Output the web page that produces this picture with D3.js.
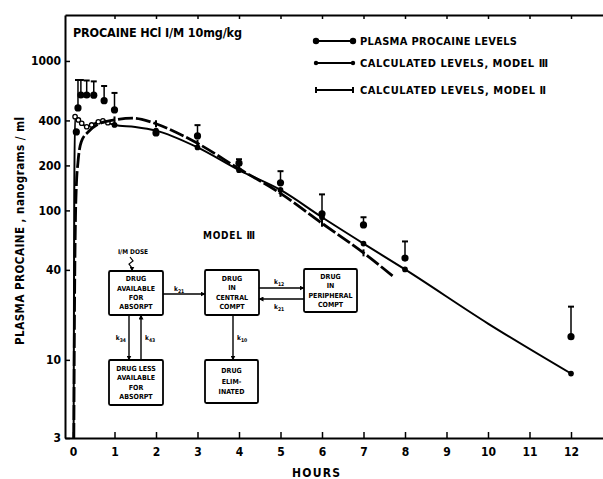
<!DOCTYPE html>
<html>
<head>
<meta charset="utf-8">
<script src="https://cdn.jsdelivr.net/npm/d3@7"></script>
<style>
    body { margin: 0; background: #fff; }
    svg { display: block; }
    text { font-family: "DejaVu Sans Condensed", "DejaVu Sans", sans-serif; font-weight: bold; fill: #000; }
</style>
</head>
<body>
<div id="container"></div>
<script>
// measured plasma levels (ng/ml) with upper error bar
const plasmaHours = [0.08, 0.12, 0.19, 0.33, 0.5, 0.75, 1, 2, 3, 4, 5, 6, 7, 8, 12];
const plasmaLevels = [335, 485, 592, 592, 590, 542, 470, 330, 315, 207, 153, 95, 80, 48, 14.3];
const plasmaUpper = [null, 746, 746, 740, 730, 680, 611, null, 372, 220, 183, 128, 90, 62, 22.7];

// calculated levels, model III (solid)
const model3Hours = [0.015, 0.03, 0.05, 0.13, 0.21, 0.33, 0.45, 0.61, 0.72, 0.84, 1, 1.5, 2, 3, 4, 5, 6, 7, 8, 10, 12];
const model3Levels = [3, 120, 424, 403, 383, 363, 373, 392, 398, 386, 373, 362, 342, 264, 186, 137, 90, 60, 40.3, 17.5, 8.1];

// calculated levels, model II (dashed), stops before 8 h
const model2Hours = [0.02, 0.04, 0.06, 0.08, 0.12, 0.2, 0.37, 0.57, 1, 1.45, 1.85, 2, 3, 4, 5, 6, 7, 7.7];
const model2Levels = [3, 30, 90, 144, 210, 288, 336, 373, 403, 414, 393, 380, 281, 190, 130, 82, 52, 36.5];

const hourTicks = d3.range(0, 13);
const levelTicks = [3, 10, 40, 100, 200, 400, 1000];

const legendLabels = ['PLASMA PROCAINE LEVELS', 'CALCULATED LEVELS, MODEL Ⅲ', 'CALCULATED LEVELS, MODEL Ⅱ'];

const svg = d3.select('#container').append('svg')
    .attr('width', 603)
    .attr('height', 479);

const marginLeft = 65;
const marginTop = 15;
const width = 603 - marginLeft;
const height = 438 - marginTop;

const chart = svg.append('g')
    .attr('transform', `translate(${marginLeft}, ${marginTop})`);

const xScale = d3.scaleLinear()
    .domain([-8 / 41.5, (width - 8) / 41.5])
    .range([0, width]);

const yScale = d3.scaleLog()
    .domain([3, 2030])
    .range([height, 0]);

// axes
const xAxis = chart.append('g')
    .attr('transform', `translate(0, ${height})`)
    .call(d3.axisBottom(xScale)
        .tickValues(hourTicks)
        .tickSizeInner(-6)
        .tickSizeOuter(0)
        .tickPadding(9));

const yAxis = chart.append('g')
    .call(d3.axisLeft(yScale)
        .tickValues(levelTicks)
        .tickFormat(d3.format('d'))
        .tickSizeInner(-5)
        .tickSizeOuter(0)
        .tickPadding(4));

const topAxis = chart.append('g')
    .call(d3.axisTop(xScale)
        .tickValues(hourTicks.slice(1))
        .tickSizeInner(-4)
        .tickSizeOuter(0)
        .tickFormat(''));

[xAxis, yAxis, topAxis].forEach(a => {
    a.attr('font-family', null).attr('font-size', 12);
    a.select('.domain').attr('stroke-width', 2);
    a.selectAll('.tick line').attr('stroke-width', 1.5);
});

// model III line
const line3 = d3.line()
    .x((d, i) => xScale(model3Hours[i]))
    .y(d => yScale(d))
    .curve(d3.curveMonotoneX);

chart.append('path')
    .datum(model3Levels)
    .attr('fill', 'none')
    .attr('stroke', '#000')
    .attr('stroke-width', 2)
    .attr('d', line3);

const marks3 = model3Hours
    .map((h, i) => ({ h: h, v: model3Levels[i] }))
    .filter(d => (d.h >= 0.05 && d.h < 1) || (Number.isInteger(d.h) && d.h !== 10));

chart.selectAll('.m3')
    .data(marks3)
    .enter()
    .append('circle')
    .attr('class', 'm3')
    .attr('cx', d => xScale(d.h))
    .attr('cy', d => yScale(d.v))
    .attr('r', 2.2)
    .attr('fill', d => d.h < 1 ? '#fff' : '#000')
    .attr('stroke', '#000')
    .attr('stroke-width', 1.3);

// model II dashed line
const line2 = d3.line()
    .x((d, i) => xScale(model2Hours[i]))
    .y(d => yScale(d))
    .curve(d3.curveMonotoneX);

chart.append('path')
    .datum(model2Levels)
    .attr('fill', 'none')
    .attr('stroke', '#000')
    .attr('stroke-width', 2.8)
    .attr('stroke-dasharray', '15,3')
    .attr('d', line2);

const marks2 = model2Hours
    .map((h, i) => ({ h: h, v: model2Levels[i] }))
    .filter(d => Number.isInteger(d.h));

chart.selectAll('.m2')
    .data(marks2)
    .enter()
    .append('line')
    .attr('class', 'm2')
    .attr('x1', d => xScale(d.h))
    .attr('x2', d => xScale(d.h))
    .attr('y1', d => yScale(d.v) - 3.5)
    .attr('y2', d => yScale(d.v) + 3.5)
    .attr('stroke', '#000')
    .attr('stroke-width', 2);

// plasma points with error bars
const plasma = plasmaHours.map((h, i) => ({ h: h, v: plasmaLevels[i], up: plasmaUpper[i] }));
const bars = plasma.filter(d => d.up !== null);

chart.selectAll('.err')
    .data(bars)
    .enter()
    .append('line')
    .attr('class', 'err')
    .attr('x1', d => xScale(d.h))
    .attr('x2', d => xScale(d.h))
    .attr('y1', d => yScale(d.v))
    .attr('y2', d => yScale(d.up))
    .attr('stroke', '#000')
    .attr('stroke-width', 1.5);

chart.selectAll('.cap')
    .data(bars)
    .enter()
    .append('line')
    .attr('class', 'cap')
    .attr('x1', d => xScale(d.h) - 3)
    .attr('x2', d => xScale(d.h) + 3)
    .attr('y1', d => yScale(d.up))
    .attr('y2', d => yScale(d.up))
    .attr('stroke', '#000')
    .attr('stroke-width', 2);

chart.selectAll('.pt')
    .data(plasma)
    .enter()
    .append('circle')
    .attr('class', 'pt')
    .attr('cx', d => xScale(d.h))
    .attr('cy', d => yScale(d.v))
    .attr('r', 3.6)
    .attr('fill', '#000');

// titles
svg.append('text')
    .attr('x', 73)
    .attr('y', 37)
    .attr('font-size', 12.5)
    .attr('textLength', 169)
    .text('PROCAINE HCl I/M 10mg/kg');

svg.append('text')
    .attr('transform', 'rotate(-90)')
    .attr('x', -231)
    .attr('y', 24)
    .attr('text-anchor', 'middle')
    .attr('font-size', 11.5)
    .attr('textLength', 228)
    .text('PLASMA PROCAINE , nanograms / ml');

svg.append('text')
    .attr('x', 316)
    .attr('y', 477)
    .attr('text-anchor', 'middle')
    .attr('font-size', 12)
    .attr('textLength', 48)
    .text('HOURS');

// legend
const legendY = [41, 63, 90];
const legendLen = [157, 188, 186];
const legend = svg.append('g');

legendLabels.forEach((label, i) => {
    legend.append('line')
        .attr('x1', 316).attr('x2', 353)
        .attr('y1', legendY[i]).attr('y2', legendY[i])
        .attr('stroke', '#000').attr('stroke-width', 2);
    [316, 353].forEach(px => {
        if (i === 0) {
            legend.append('circle').attr('cx', px).attr('cy', legendY[i]).attr('r', 3.2).attr('fill', '#000');
        } else if (i === 1) {
            legend.append('circle').attr('cx', px).attr('cy', legendY[i]).attr('r', 2.2).attr('fill', '#000');
        } else {
            legend.append('line')
                .attr('x1', px).attr('x2', px)
                .attr('y1', legendY[i] - 3).attr('y2', legendY[i] + 3)
                .attr('stroke', '#000').attr('stroke-width', 2);
        }
    });
    legend.append('text')
        .attr('x', 360)
        .attr('y', legendY[i] + 4)
        .attr('font-size', 11)
        .attr('textLength', legendLen[i])
        .text(label);
});

// inset compartment diagram
const defs = svg.append('defs');
defs.append('marker')
    .attr('id', 'head')
    .attr('viewBox', '0 0 10 10')
    .attr('refX', 9).attr('refY', 5)
    .attr('markerWidth', 5).attr('markerHeight', 5)
    .attr('markerUnits', 'userSpaceOnUse')
    .attr('orient', 'auto')
    .append('path')
    .attr('d', 'M0,0L10,5L0,10Z')
    .attr('fill', '#000');

const inset = svg.append('g');

inset.append('text')
    .attr('x', 229).attr('y', 239)
    .attr('text-anchor', 'middle')
    .attr('font-size', 10)
    .attr('textLength', 52)
    .text('MODEL Ⅲ');

inset.append('text')
    .attr('x', 133).attr('y', 254)
    .attr('text-anchor', 'middle')
    .attr('font-size', 6.5)
    .text('I/M DOSE');

inset.append('path')
    .attr('d', 'M130,257 L133,261 L129,264 L132,268 L132,271')
    .attr('fill', 'none')
    .attr('stroke', '#000')
    .attr('stroke-width', 1.2)
    .attr('marker-end', 'url(#head)');

const boxes = [
    { x: 109, y: 271, w: 54, h: 44, lines: ['DRUG', 'AVAILABLE', 'FOR', 'ABSORPT'] },
    { x: 205, y: 270, w: 54, h: 45, lines: ['DRUG', 'IN', 'CENTRAL', 'COMPT'] },
    { x: 304, y: 269, w: 53, h: 43, lines: ['DRUG', 'IN', 'PERIPHERAL', 'COMPT'] },
    { x: 109, y: 360, w: 54, h: 45, lines: ['DRUG LESS', 'AVAILABLE', 'FOR', 'ABSORPT'] },
    { x: 205, y: 360, w: 53, h: 43, lines: ['DRUG', 'ELIM-', 'INATED'] }
];

boxes.forEach(b => {
    inset.append('rect')
        .attr('x', b.x).attr('y', b.y)
        .attr('width', b.w).attr('height', b.h)
        .attr('rx', 1.5)
        .attr('fill', '#fff')
        .attr('stroke', '#000')
        .attr('stroke-width', 1.8);
    const step = b.lines.length === 3 ? 10.5 : 9.3;
    const cy = b.y + b.h / 2;
    b.lines.forEach((t, j) => {
        inset.append('text')
            .attr('x', b.x + b.w / 2)
            .attr('y', cy + (j - (b.lines.length - 1) / 2) * step + 2.4)
            .attr('text-anchor', 'middle')
            .attr('font-size', 7)
            .text(t);
    });
});

const arrows = [
    { x1: 163, y1: 294, x2: 205, y2: 294, k: '21', lx: 174, ly: 291, anchor: 'start' },
    { x1: 259, y1: 288, x2: 304, y2: 288, k: '12', lx: 274, ly: 284, anchor: 'start' },
    { x1: 304, y1: 299, x2: 259, y2: 299, k: '21', lx: 274, ly: 309, anchor: 'start' },
    { x1: 129, y1: 315, x2: 129, y2: 360, k: '34', lx: 126, ly: 340, anchor: 'end' },
    { x1: 141, y1: 360, x2: 141, y2: 315, k: '43', lx: 145, ly: 340, anchor: 'start' },
    { x1: 233, y1: 315, x2: 233, y2: 360, k: '10', lx: 237, ly: 340, anchor: 'start' }
];

arrows.forEach(a => {
    inset.append('line')
        .attr('x1', a.x1).attr('y1', a.y1)
        .attr('x2', a.x2).attr('y2', a.y2)
        .attr('stroke', '#000')
        .attr('stroke-width', 1.4)
        .attr('marker-end', 'url(#head)');
    const t = inset.append('text')
        .attr('x', a.lx).attr('y', a.ly)
        .attr('text-anchor', a.anchor)
        .attr('font-size', 6.5)
        .text('k');
    t.append('tspan')
        .attr('dy', 1.5)
        .attr('font-size', 5)
        .text(a.k);
});
</script>
</body>
</html>
